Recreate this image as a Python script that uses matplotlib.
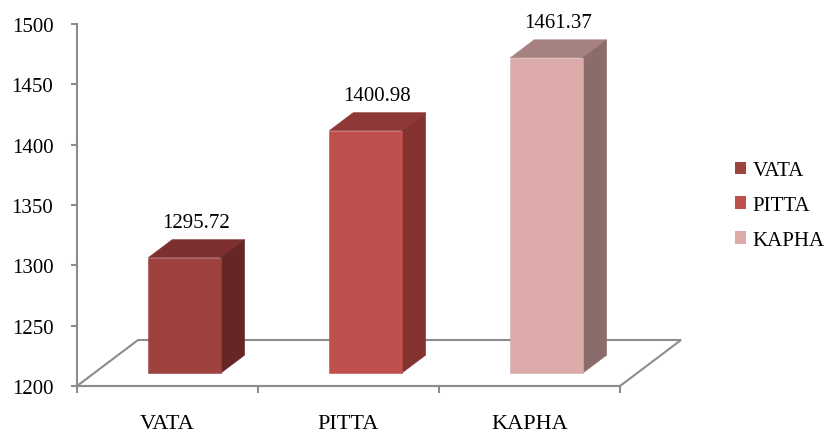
import numpy as np
import matplotlib
matplotlib.use("Agg")
import matplotlib.pyplot as plt
from matplotlib.patches import Polygon, Patch
from matplotlib.transforms import IdentityTransform

# valores por constitución
categories = ["VATA", "PITTA", "KAPHA"]
values = [1295.72, 1400.98, 1461.37]

# colores: cara frontal, lateral y superior de cada barra
front_colors = ["#9E4240", "#C0504D", "#DBAAA9"]
side_colors = ["#652725", "#843230", "#8A6D6B"]
top_colors = ["#7D302F", "#8E3937", "#A58280"]

y_min, y_max, y_step = 1200, 1500, 50

plt.rcParams["font.family"] = ["Liberation Serif", "DejaVu Serif"]
FS = 15
GRAY = "#8C8C8C"

fig = plt.figure(figsize=(8.24, 4.35), dpi=100)
ax = fig.add_axes([77 / 824, 48 / 435, 543 / 824, 362 / 435])
ax.set_facecolor("none")
ax.set_xlim(0, len(categories))
ax.set_ylim(y_min, y_max)

# desplazamiento en pixeles de la profundidad (perspectiva oblicua)
DEPTH = np.array([61.0, 46.0])
d0, d1 = 0.28, 0.67   # profundidad de las barras dentro del piso
half_w = 0.2


def proj(x, v, d):
    return ax.transData.transform((x, v)) + d * DEPTH


def poly(points, **kw):
    p = Polygon(np.array(points), closed=True, transform=IdentityTransform(),
                clip_on=False, **kw)
    ax.add_patch(p)


# piso
n = len(categories)
poly([proj(0, y_min, 0), proj(n, y_min, 0), proj(n, y_min, 1), proj(0, y_min, 1)],
     facecolor="none", edgecolor=GRAY, lw=1.5, zorder=1)

for i, v in enumerate(values):
    c = i + 0.5
    x0, x1 = c - half_w, c + half_w
    top = [proj(x0, v, d0), proj(x1, v, d0), proj(x1, v, d1), proj(x0, v, d1)]
    side = [proj(x1, y_min, d0), proj(x1, y_min, d1), proj(x1, v, d1), proj(x1, v, d0)]
    front = [proj(x0, y_min, d0), proj(x1, y_min, d0), proj(x1, v, d0), proj(x0, v, d0)]
    poly(top, facecolor=top_colors[i], edgecolor=top_colors[i], lw=0.4, zorder=3)
    poly(side, facecolor=side_colors[i], edgecolor=side_colors[i], lw=0.4, zorder=3)
    poly(front, facecolor=front_colors[i], edgecolor=front_colors[i], lw=0.4, zorder=4)

    lx, ly = proj(c, v, (d0 + d1) / 2) + np.array([0, 26])
    ax.text(lx, ly, f"{v:.2f}", transform=IdentityTransform(), ha="center",
            va="center", fontsize=FS, color="black")

# ejes
for s in ["top", "right"]:
    ax.spines[s].set_visible(False)
for s in ["left", "bottom"]:
    ax.spines[s].set_color(GRAY)
    ax.spines[s].set_linewidth(1.5)
    ax.spines[s].set_zorder(2)

ax.set_yticks(np.arange(y_min, y_max + 1, y_step))
ax.tick_params(axis="y", direction="out", length=4, width=1.5, color=GRAY,
               pad=13, labelsize=FS, labelcolor="black")

ax.set_xticks(np.arange(n) + 0.5)
ax.set_xticklabels(categories)
ax.set_xticks(np.arange(n + 1), minor=True)
ax.tick_params(axis="x", which="major", length=0, pad=20, labelsize=16)
ax.tick_params(axis="x", which="minor", direction="out", length=5, width=1.5,
               color=GRAY)

handles = [Patch(facecolor=front_colors[i], edgecolor="none", label=categories[i])
           for i in range(n)]
fig.legend(handles=handles, loc="center left", bbox_to_anchor=(735 / 824, 0.525),
           frameon=False, fontsize=FS, handlelength=0.55, handleheight=0.55,
           handletextpad=0.3, labelspacing=0.75, borderaxespad=0, borderpad=0)

fig.savefig("out.png", dpi=100)
